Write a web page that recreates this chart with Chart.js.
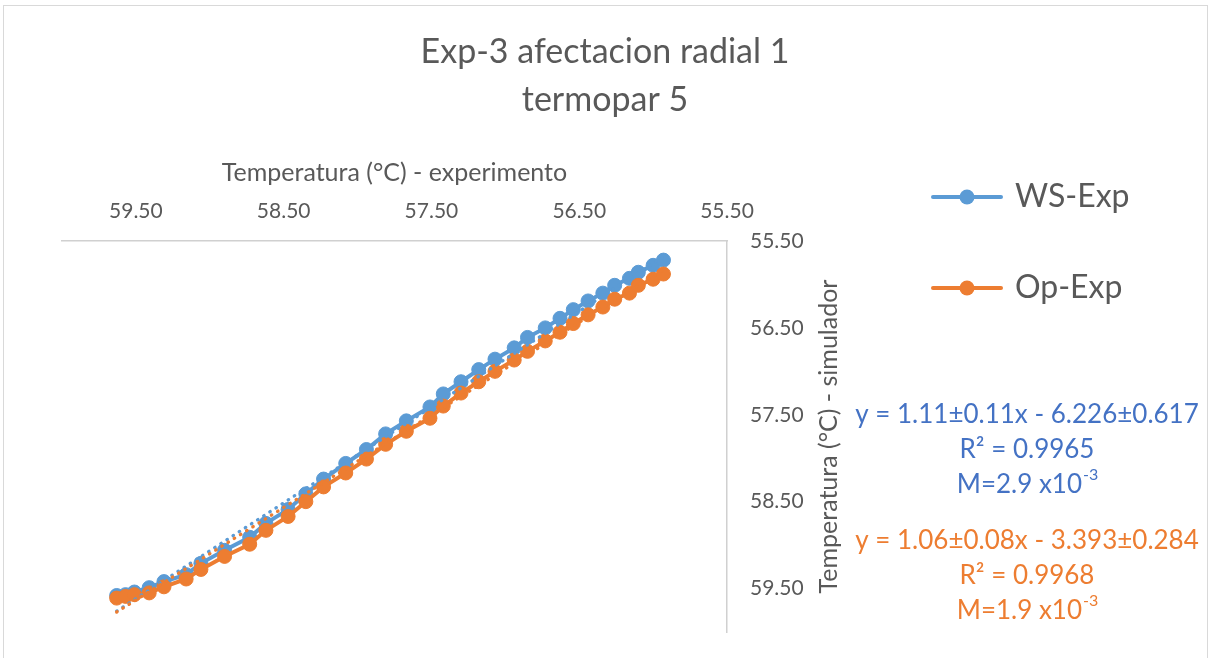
<!DOCTYPE html>
<html><head><meta charset="utf-8">
<script src="https://cdn.jsdelivr.net/npm/chart.js@4.4.1/dist/chart.umd.min.js"></script>
<style>html,body{margin:0;padding:0;background:#fff;}#wrap{width:1209px;height:658px;}</style>
</head><body><div id="wrap"><canvas id="c" width="1209" height="658"></canvas></div>
<script>
// ---- data ----
const titleLines = ["Exp-3 afectacion radial 1", "termopar 5"];
const xAxisTitle = "Temperatura (°C) - experimento";
const yAxisTitle = "Temperatura (°C) - simulador";
const seriesNames = ["WS-Exp", "Op-Exp"];
const expTemp = [59.63, 59.57, 59.51, 59.41, 59.31, 59.16, 59.06, 58.90, 58.73, 58.62, 58.47, 58.35, 58.23, 58.08, 57.94, 57.81, 57.67, 57.51, 57.42, 57.30, 57.18, 57.07, 56.94, 56.85, 56.73, 56.63, 56.54, 56.44, 56.34, 56.26, 56.16, 56.10, 56.00, 55.93];
const wsSim = [59.58, 59.57, 59.54, 59.49, 59.42, 59.34, 59.21, 59.06, 58.91, 58.75, 58.59, 58.41, 58.24, 58.06, 57.90, 57.72, 57.57, 57.41, 57.26, 57.12, 56.98, 56.86, 56.73, 56.61, 56.50, 56.39, 56.29, 56.19, 56.10, 56.01, 55.93, 55.86, 55.78, 55.72];
const opSim = [59.61, 59.59, 59.57, 59.55, 59.48, 59.39, 59.28, 59.13, 58.99, 58.83, 58.67, 58.50, 58.33, 58.17, 58.01, 57.84, 57.69, 57.54, 57.40, 57.25, 57.12, 57.00, 56.87, 56.77, 56.65, 56.55, 56.45, 56.35, 56.26, 56.17, 56.10, 56.01, 55.94, 55.88];
const trendX = [59.63, 55.93];
const wsTrend = [59.76, 55.68];
const opTrend = [59.77, 55.83];
const axisTicks = [55.5, 56.5, 57.5, 58.5, 59.5];
const axisMin = 55.5, axisMax = 60.0;
const wsFitText = ["y = 1.11±0.11x - 6.226±0.617", "R² = 0.9965", "M=2.9 x10", "-3"];
const opFitText = ["y = 1.06±0.08x - 3.393±0.284", "R² = 0.9968", "M=1.9 x10", "-3"];

// ---- style ----
const BLUE = '#5B9BD5', ORANGE = '#ED7D31', BLUE_TXT = '#4472C4', GREY = '#595959', AXIS = '#D0D0D0';
const FONT = 'Lato, "Open Sans", sans-serif';
const PLOT_TOP = 241, PLOT_RIGHT = 727, PAD_RIGHT = 61;
const LEG_PAD = 59;

const pts = (xs, ys) => xs.map((x, i) => ({x, y: ys[i]}));

function legendIcon(color) {
  const c = document.createElement('canvas');
  c.width = 72; c.height = 18;
  const g = c.getContext('2d');
  g.strokeStyle = color; g.lineWidth = 4; g.lineCap = 'round';
  g.beginPath(); g.moveTo(2, 9); g.lineTo(70, 9); g.stroke();
  g.fillStyle = color; g.beginPath(); g.arc(36, 9, 7.5, 0, Math.PI * 2); g.fill();
  return c;
}
const icons = [legendIcon(BLUE), legendIcon(ORANGE)];

const bgPlugin = {
  id: 'bg',
  beforeDraw(chart) {
    const ctx = chart.ctx;
    ctx.save();
    ctx.fillStyle = '#fff'; ctx.fillRect(0, 0, chart.width, chart.height);
    ctx.strokeStyle = '#D9D9D9'; ctx.lineWidth = 1;
    ctx.strokeRect(3.5, 5.5, chart.width - 5, chart.height);
    ctx.restore();
  },
  afterLayout(chart) {
    const lg = chart.legend;
    if (!lg) return;
    const w = lg.width, h = lg.height;
    lg.left = 935 - LEG_PAD; lg.right = lg.left + w;
    lg.top = 122; lg.bottom = lg.top + h;
  }
};

function drawSupLine(ctx, base, sup, cx, cy, size, color) {
  ctx.fillStyle = color;
  ctx.font = `${size}px ${FONT}`;
  const w1 = ctx.measureText(base).width;
  const supSize = Math.round(size * 0.62);
  ctx.font = `${supSize}px ${FONT}`;
  const w2 = ctx.measureText(sup).width;
  const x0 = cx - (w1 + w2) / 2;
  ctx.textAlign = 'left'; ctx.textBaseline = 'middle';
  ctx.font = `${size}px ${FONT}`;
  ctx.fillText(base, x0, cy);
  ctx.font = `${supSize}px ${FONT}`;
  ctx.fillText(sup, x0 + w1 + 1, cy - size * 0.38);
}

const textPlugin = {
  id: 'texts',
  afterDraw(chart) {
    const ctx = chart.ctx;
    const ca = chart.chartArea;
    ctx.save();
    // y axis title, reading bottom to top
    ctx.translate(829, (ca.top + ca.bottom) / 2);
    ctx.rotate(-Math.PI / 2);
    ctx.fillStyle = GREY; ctx.font = `25px ${FONT}`;
    ctx.textAlign = 'center'; ctx.textBaseline = 'middle';
    ctx.fillText(yAxisTitle, 0, 0);
    ctx.restore();

    ctx.save();
    const cx = 1027, size = 26;
    const blocks = [[wsFitText, BLUE_TXT, 415], [opFitText, ORANGE, 541]];
    for (const [t, col, y0] of blocks) {
      ctx.fillStyle = col; ctx.font = `${size}px ${FONT}`;
      ctx.textAlign = 'center'; ctx.textBaseline = 'middle';
      ctx.fillText(t[0], cx, y0);
      ctx.fillText(t[1], cx, y0 + 35);
      drawSupLine(ctx, t[2], t[3], cx, y0 + 70, size, col);
    }
    ctx.restore();
  }
};

const tickCb = v => Number(v).toFixed(2);

new Chart(document.getElementById('c'), {
  type: 'scatter',
  data: {
    datasets: [
      { label: seriesNames[0], data: pts(expTemp, wsSim), showLine: true, borderColor: BLUE, backgroundColor: BLUE,
        borderWidth: 4, pointRadius: 7, pointBorderWidth: 1, pointBackgroundColor: BLUE, pointBorderColor: BLUE, order: 4 },
      { label: seriesNames[1], data: pts(expTemp, opSim), showLine: true, borderColor: ORANGE, backgroundColor: ORANGE,
        borderWidth: 4, pointRadius: 7, pointBorderWidth: 1, pointBackgroundColor: ORANGE, pointBorderColor: ORANGE, order: 3 },
      { label: 'trend-ws', data: pts(trendX, wsTrend), showLine: true, borderColor: BLUE, borderWidth: 3.3,
        borderDash: [0.5, 6.8], borderCapStyle: 'round', pointRadius: 0, order: 2 },
      { label: 'trend-op', data: pts(trendX, opTrend), showLine: true, borderColor: ORANGE, borderWidth: 3.3,
        borderDash: [0.5, 6.8], borderCapStyle: 'round', pointRadius: 0, order: 1 }
    ]
  },
  options: {
    responsive: false, animation: false, devicePixelRatio: 1, events: [],
    layout: { padding: { left: 62, right: PAD_RIGHT, top: 10, bottom: 26 } },
    plugins: {
      tooltip: { enabled: false },
      title: { display: true, text: titleLines, color: GREY,
        font: { family: FONT, size: 34, weight: 'normal', lineHeight: 1.41 }, padding: { top: 18, bottom: 10 } },
      legend: {
        display: true, position: 'right', align: 'start',
        labels: {
          color: GREY, font: { family: FONT, size: 32 }, padding: LEG_PAD,
          usePointStyle: true, pointStyleWidth: 64, boxHeight: 32,
          filter: item => item.datasetIndex < 2,
          sort: (a, b) => a.datasetIndex - b.datasetIndex,
          generateLabels: chart => Chart.defaults.plugins.legend.labels.generateLabels(chart).map(it => {
            if (it.datasetIndex < 2) it.pointStyle = icons[it.datasetIndex];
            return it;
          })
        }
      }
    },
    scales: {
      x: {
        type: 'linear', position: 'top', reverse: true, min: axisMin, max: axisMax,
        grid: { display: false, drawTicks: false },
        border: { display: true, color: AXIS, width: 1.5 },
        ticks: { color: GREY, font: { family: FONT, size: 21 }, padding: 17, callback: tickCb, maxRotation: 0, autoSkip: false },
        afterBuildTicks: s => { s.ticks = axisTicks.map(v => ({ value: v })); },
        title: { display: true, text: xAxisTitle, color: GREY, font: { family: FONT, size: 25, lineHeight: 1.2 }, padding: { top: 24, bottom: 0 } },
        afterFit: s => { s.height = PLOT_TOP - 10 - s.chart.titleBlock.height; }
      },
      y: {
        type: 'linear', position: 'right', reverse: true, min: axisMin, max: axisMax,
        grid: { display: false, drawTicks: true, tickLength: 20 },
        border: { display: true, color: AXIS, width: 1.5 },
        ticks: { color: GREY, font: { family: FONT, size: 21 }, padding: 3, callback: tickCb, autoSkip: false },
        afterBuildTicks: s => { s.ticks = axisTicks.map(v => ({ value: v })); },
        afterFit: s => { const lw = s.chart.legend ? s.chart.legend.width : 0; s.width = Math.max(10, s.chart.width - PAD_RIGHT - lw - PLOT_RIGHT); }
      }
    }
  },
  plugins: [bgPlugin, textPlugin]
});
</script></body></html>
